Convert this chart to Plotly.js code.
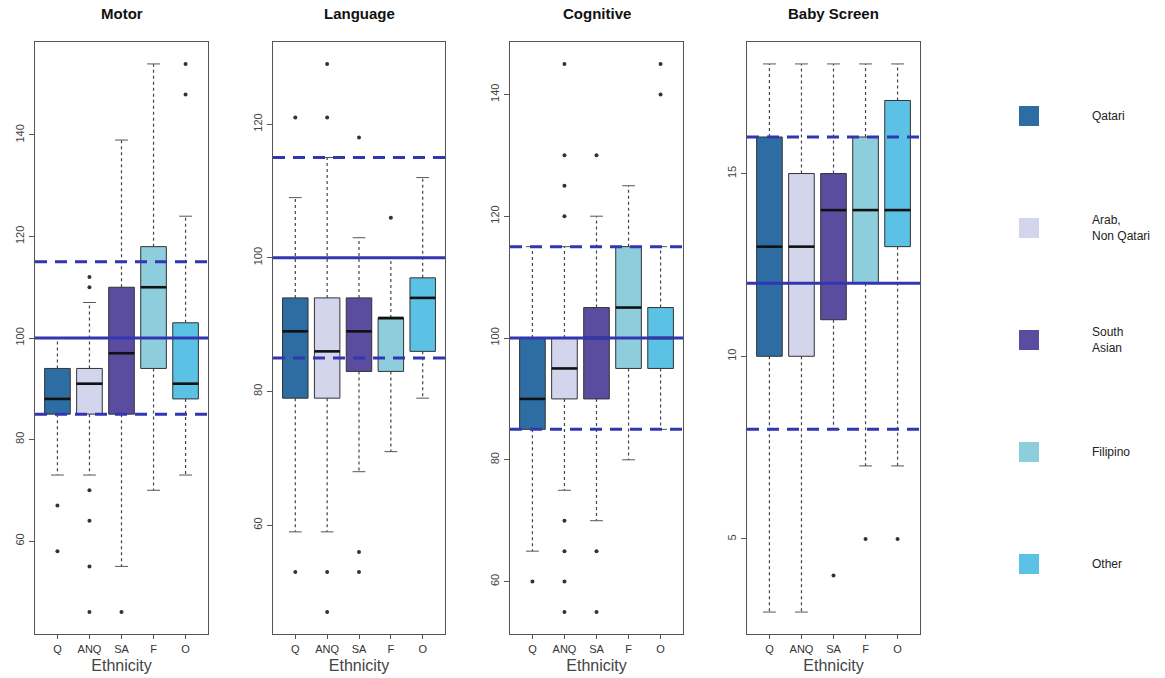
<!DOCTYPE html>
<html>
<head>
<meta charset="utf-8">
<script src="https://cdn.plot.ly/plotly-3.0.1.min.js"></script>
<style>html,body{margin:0;padding:0;background:#fff}#chart{width:1165px;height:678px}</style>
</head>
<body>
<div id="chart"></div>
<script>
// ---- data ----
const groups = ['Q', 'ANQ', 'SA', 'F', 'O'];
const groupNames = ['Qatari', 'Arab,<br>Non Qatari', 'South<br>Asian', 'Filipino', 'Other'];
const groupColors = ['#2E6DA4', '#D3D5EC', '#5A4DA0', '#8ECDDB', '#5BC2E6'];
const panelTitles = ['Motor', 'Language', 'Cognitive', 'Baby Screen'];

const motorLower  = [73, 73, 55, 70, 73];
const motorQ1     = [85, 85, 85, 94, 88];
const motorMedian = [88, 91, 97, 110, 91];
const motorQ3     = [94, 94, 110, 118, 103];
const motorUpper  = [100, 107, 139, 154, 124];
const motorOutliers = [[67, 58], [112, 110, 70, 64, 55, 46], [46], [], [154, 148]];

const langLower  = [59, 59, 68, 71, 79];
const langQ1     = [79, 79, 83, 83, 86];
const langMedian = [89, 86, 89, 91, 94];
const langQ3     = [94, 94, 94, 91, 97];
const langUpper  = [109, 115, 103, 100, 112];
const langOutliers = [[121, 53], [129, 121, 53, 47], [118, 56, 53], [106], []];

const cogLower  = [65, 75, 70, 80, 85];
const cogQ1     = [85, 90, 90, 95, 95];
const cogMedian = [90, 95, 100, 105, 100];
const cogQ3     = [100, 100, 105, 115, 105];
const cogUpper  = [115, 115, 120, 125, 115];
const cogOutliers = [[60], [145, 130, 125, 120, 70, 65, 60, 55], [130, 65, 55], [], [145, 140]];

const babyLower  = [3, 3, 8, 7, 7];
const babyQ1     = [10, 10, 11, 12, 13];
const babyMedian = [13, 13, 14, 14, 14];
const babyQ3     = [16, 15, 15, 16, 17];
const babyUpper  = [18, 18, 18, 18, 18];
const babyOutliers = [[], [], [4], [5], [5]];

const scoreRefLines = [85, 100, 115];
const babyRefLines = [8, 12, 16];
const yTickStep = [20, 20, 20, 5];

// ---- build ----
const panels = [
  {lo: motorLower, q1: motorQ1, med: motorMedian, q3: motorQ3, hi: motorUpper, out: motorOutliers, ref: scoreRefLines},
  {lo: langLower, q1: langQ1, med: langMedian, q3: langQ3, hi: langUpper, out: langOutliers, ref: scoreRefLines},
  {lo: cogLower, q1: cogQ1, med: cogMedian, q3: cogQ3, hi: cogUpper, out: cogOutliers, ref: scoreRefLines},
  {lo: babyLower, q1: babyQ1, med: babyMedian, q3: babyQ3, hi: babyUpper, out: babyOutliers, ref: babyRefLines}
];

const W = 1165, H = 678;
const domainsPx = [[35, 208], [273, 445], [510, 683], [747, 920]];
const yDom = [1 - 634 / H, 1 - 42 / H];
const FONT = 'Liberation Sans, Arial, Helvetica, sans-serif';

const traces = [];
const shapes = [];
const annotations = [];
const layout = {
  width: W, height: H,
  margin: {l: 0, r: 0, t: 0, b: 0},
  paper_bgcolor: '#fff', plot_bgcolor: '#fff',
  showlegend: false,
  boxmode: 'overlay',
  font: {family: FONT, color: '#333'},
  shapes: shapes, annotations: annotations
};

const pos = groups.map((g, i) => i + 1);

panels.forEach((p, k) => {
  const sfx = k === 0 ? '' : String(k + 1);
  const xa = 'x' + sfx, ya = 'y' + sfx;

  // boxes
  groups.forEach((g, i) => {
    traces.push({
      type: 'box', xaxis: xa, yaxis: ya,
      x: [pos[i]], q1: [p.q1[i]], median: [p.med[i]], q3: [p.q3[i]],
      lowerfence: [p.q1[i]], upperfence: [p.q3[i]],
      width: 0.8, whiskerwidth: 0, boxpoints: false,
      fillcolor: groupColors[i], line: {color: '#333', width: 1},
      hoverinfo: 'skip', showlegend: false
    });
  });

  // whiskers (dotted)
  const wx = [], wy = [];
  groups.forEach((g, i) => {
    wx.push(pos[i], pos[i], null, pos[i], pos[i], null);
    wy.push(p.q3[i], p.hi[i], null, p.q1[i], p.lo[i], null);
  });
  traces.push({type: 'scatter', mode: 'lines', xaxis: xa, yaxis: ya, x: wx, y: wy,
    line: {color: '#444', width: 1.2, dash: '3px,3px'}, hoverinfo: 'skip', showlegend: false});

  // staples
  const cx = [], cy = [];
  groups.forEach((g, i) => {
    cx.push(pos[i] - 0.2, pos[i] + 0.2, null, pos[i] - 0.2, pos[i] + 0.2, null);
    cy.push(p.hi[i], p.hi[i], null, p.lo[i], p.lo[i], null);
  });
  traces.push({type: 'scatter', mode: 'lines', xaxis: xa, yaxis: ya, x: cx, y: cy,
    line: {color: '#555', width: 1}, hoverinfo: 'skip', showlegend: false});

  // medians
  const mx = [], my = [];
  groups.forEach((g, i) => {
    mx.push(pos[i] - 0.4, pos[i] + 0.4, null);
    my.push(p.med[i], p.med[i], null);
  });
  traces.push({type: 'scatter', mode: 'lines', xaxis: xa, yaxis: ya, x: mx, y: my,
    line: {color: '#111', width: 2.6}, hoverinfo: 'skip', showlegend: false});

  // outliers
  const ox = [], oy = [];
  groups.forEach((g, i) => {
    p.out[i].forEach(v => { ox.push(pos[i]); oy.push(v); });
  });
  traces.push({type: 'scatter', mode: 'markers', xaxis: xa, yaxis: ya, x: ox, y: oy,
    marker: {color: '#333', size: 4}, hoverinfo: 'skip', showlegend: false});

  // reference lines
  p.ref.forEach((v, j) => {
    shapes.push({type: 'line', xref: xa + ' domain', yref: ya, x0: 0, x1: 1, y0: v, y1: v,
      layer: 'above', line: {color: '#3236B0', width: 3, dash: j === 1 ? 'solid' : '12px,8px'}});
  });

  // y range as in R (4% extension)
  const all = [].concat(p.lo, p.hi, ...p.out);
  const mn = Math.min(...all), mxv = Math.max(...all);
  const ext = (mxv - mn) * 0.04;

  layout['xaxis' + sfx] = {
    domain: [domainsPx[k][0] / W, domainsPx[k][1] / W], anchor: ya,
    range: [0.3, 5.7], tickmode: 'array', tickvals: pos, ticktext: groups,
    showline: true, mirror: true, linecolor: '#555', linewidth: 1.3,
    ticks: 'outside', ticklen: 4, tickcolor: '#555', showgrid: false, zeroline: false,
    tickfont: {size: 11, color: '#333', family: FONT},
    title: {text: 'Ethnicity', font: {size: 16, color: '#444', family: FONT}, standoff: 6},
    automargin: false, fixedrange: true
  };
  layout['yaxis' + sfx] = {
    domain: yDom, anchor: xa,
    range: [mn - ext, mxv + ext], tickmode: 'linear', tick0: 0, dtick: yTickStep[k],
    showline: true, mirror: true, linecolor: '#555', linewidth: 1.3,
    ticks: 'outside', ticklen: 5, tickcolor: '#555', showgrid: false, zeroline: false,
    tickangle: -90, tickfont: {size: 11, color: '#444', family: FONT},
    automargin: false, fixedrange: true
  };

  annotations.push({
    text: '<b>' + panelTitles[k] + '</b>', xref: 'paper', yref: 'paper',
    x: (domainsPx[k][0] + domainsPx[k][1]) / 2 / W, y: 1 - 14 / H,
    xanchor: 'center', yanchor: 'middle', showarrow: false,
    font: {size: 15, color: '#111', family: FONT}
  });
});

// legend drawn as shapes + labels
const legY = [116, 228, 340, 452, 564];
groupNames.forEach((name, i) => {
  shapes.push({type: 'rect', xref: 'paper', yref: 'paper',
    x0: 1019 / W, x1: 1039 / W, y0: 1 - (legY[i] + 10) / H, y1: 1 - (legY[i] - 10) / H,
    fillcolor: groupColors[i], line: {width: 0}});
  annotations.push({text: name, xref: 'paper', yref: 'paper', x: 1090 / W, y: 1 - legY[i] / H,
    xanchor: 'left', yanchor: 'middle', align: 'left', showarrow: false,
    font: {size: 12, color: '#222', family: FONT}});
});

Plotly.newPlot('chart', traces, layout, {displayModeBar: false, staticPlot: true});
</script>
</body>
</html>
